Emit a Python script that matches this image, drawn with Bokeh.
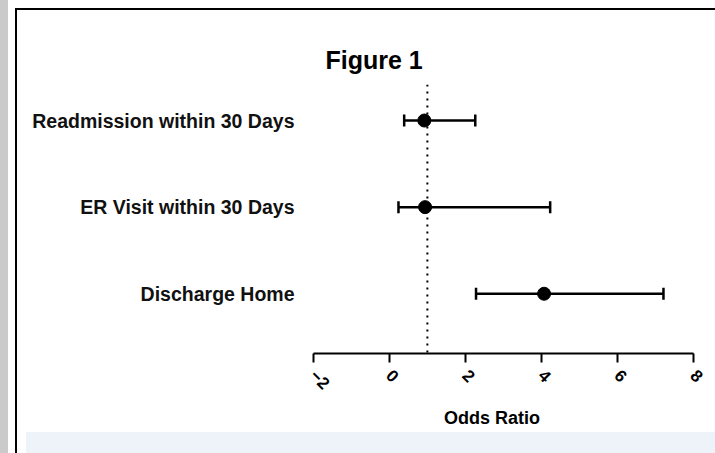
import math
from bokeh.plotting import figure
from bokeh.models import ColumnDataSource, Range1d, FixedTicker, Span, Whisker, TeeHead, Title
from bokeh.embed import file_html
from bokeh.resources import INLINE

# ---- data ----
categories = ["Discharge Home", "ER Visit within 30 Days", "Readmission within 30 Days"]
positions = [1, 2, 3]
odds_ratio = [4.07, 0.94, 0.92]
ci_lower = [2.28, 0.24, 0.39]
ci_upper = [7.21, 4.23, 2.26]
null_value = 1.0
x_ticks = [-2, 0, 2, 4, 6, 8]

FONT = "Liberation Sans"

src = ColumnDataSource(dict(y=positions, est=odds_ratio, lo=ci_lower, hi=ci_upper))

# page decoration (gray side bar, black frame edges, pale band at the bottom)
page_css = {
    "background": ", ".join([
        "linear-gradient(#cacaca, #cacaca) 0px 0px / 8px 100% no-repeat",
        "linear-gradient(#000, #000) 15px 8px / 2px 100% no-repeat",
        "linear-gradient(#000, #000) 15px 8px / 100% 2px no-repeat",
        "linear-gradient(#eef2f9, #eef2f9) 26px 432px / 100% 21px no-repeat",
        "white",
    ]),
}

p = figure(width=715, height=453, output_backend="svg", toolbar_location=None,
           x_range=Range1d(-2.6, 8.0), y_range=Range1d(0.31, 3.416),
           min_border_left=290, min_border_right=22, min_border_top=84,
           min_border_bottom=100, styles=page_css)
p.background_fill_color = "white"
p.border_fill_alpha = 0
p.outline_line_color = None
p.xgrid.visible = False
p.ygrid.visible = False

# title
t = Title(text="Figure 1", align="left", offset=35, standoff=21,
          text_font=FONT, text_font_size="25px", text_font_style="bold",
          text_color="black")
p.add_layout(t, "above")

# x axis
xa = p.xaxis[0]
xa.bounds = (-2, 8)
xa.ticker = FixedTicker(ticks=x_ticks)
xa.minor_tick_line_color = None
xa.axis_line_width = 2
xa.major_tick_line_width = 2
xa.major_tick_in = 0
xa.major_tick_out = 9
xa.axis_line_color = "black"
xa.major_tick_line_color = "black"
xa.major_label_orientation = -math.pi / 4
xa.major_label_text_font = FONT
xa.major_label_text_font_size = "17px"
xa.major_label_text_font_style = "bold"
xa.major_label_text_color = "black"
xa.major_label_standoff = 10
xa.axis_label = "Odds Ratio"
xa.axis_label_text_font = FONT
xa.axis_label_text_font_size = "18px"
xa.axis_label_text_font_style = "bold"
xa.axis_label_text_color = "black"
xa.axis_label_standoff = 10

# y axis with category labels
ya = p.yaxis[0]
ya.ticker = FixedTicker(ticks=positions)
ya.major_label_overrides = {pos: name for pos, name in zip(positions, categories)}
ya.axis_line_color = None
ya.major_tick_line_color = None
ya.minor_tick_line_color = None
ya.major_tick_in = 0
ya.major_tick_out = 0
ya.major_label_standoff = -4
ya.major_label_text_font = FONT
ya.major_label_text_font_size = "19.5px"
ya.major_label_text_font_style = "bold"
ya.major_label_text_color = "#111111"

# reference line
p.add_layout(Span(location=null_value, dimension="height", line_color="black",
                  line_width=2, line_dash="2 5"))

# error bars
w = Whisker(source=src, base="y", lower="lo", upper="hi", dimension="width",
            line_color="black", line_width=2.5,
            lower_head=TeeHead(size=12, line_width=2.5, line_color="black"),
            upper_head=TeeHead(size=12, line_width=2.5, line_color="black"))
p.add_layout(w)

p.scatter(x="est", y="y", source=src, size=13, color="black")

open("out.html", "w").write(file_html(p, INLINE))
